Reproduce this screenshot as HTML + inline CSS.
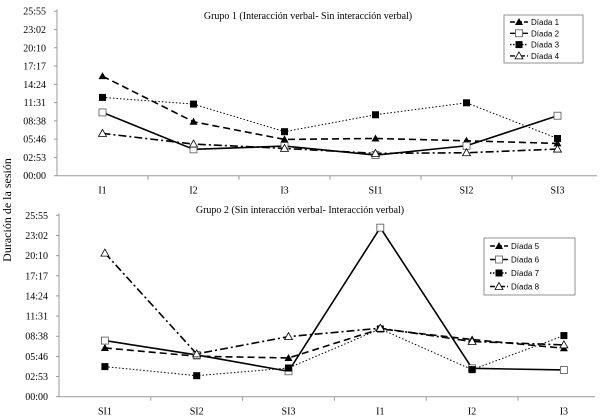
<!DOCTYPE html>
<html><head><meta charset="utf-8"><style>
body{margin:0;background:#fff}
svg{display:block;font-family:"Liberation Serif",serif}
</style></head><body>
<svg id="c" width="600" height="417" viewBox="0 0 600 417">
<text x="11" y="210" font-size="12" transform="rotate(-90 11 210)" text-anchor="middle">Duración de la sesión</text>
</svg>
<script>
const catsTop=["I1","I2","I3","SI1","SI2","SI3"];
const catsBot=["SI1","SI2","SI3","I1","I2","I3"];
const tickLabels=["00:00","02:53","05:46","08:38","11:31","14:24","17:17","20:10","23:02","25:55"];
const d1=[941,510,343,352,330,305];
const d2=[598,249,280,195,283,567];
const d3=[740,677,416,576,689,352];
const d4=[400,299,258,211,217,252];
const d5=[418,347,332,581,490,415];
const d6=[481,358,218,1449,243,229];
const d7=[258,180,246,581,232,524];
const d8=[1231,367,515,587,473,444];
const yMax=1555;
const svg=document.getElementById('c');
const NS="http://www.w3.org/2000/svg";
function mk(t,a,p){const e=document.createElementNS(NS,t);for(const k in a)e.setAttribute(k,a[k]);(p||svg).appendChild(e);return e;}
const styles={
 dash:"7,4", solid:"", dot:"1.5,2", dashdot:"8,3,2,3"
};
function marker(g,type,x,y){
 if(type==="tri"||type==="otri"){const m=mk('polygon',{points:`${x},${y-4} ${x-4},${y+3} ${x+4},${y+3}`,fill:type==="tri"?"#000":"#fff",stroke:"#000","stroke-width":type==="tri"?0:0.8},g);}
 else {const m=mk('rect',{x:x-3.5,y:y-3.5,width:7,height:7,fill:type==="sq"?"#000":"#fff",stroke:type==="sq"?"none":"#555","stroke-width":0.8},g);}
}
function panel(o){
 const g=mk('g',{});
 
 
 const ys=v=>o.y0-v/yMax*(o.y0-o.y1);
 const xs=i=>o.x0+o.bw*(i+0.5);
 const ax=mk('line',{x1:o.x0,y1:o.y1-2,x2:o.x0,y2:o.y0,stroke:"#999"},g);
 
 const bx=mk('line',{x1:o.x0,y1:o.y0,x2:o.x1,y2:o.y0,stroke:"#999"},g);
 
 tickLabels.forEach((t,i)=>{const v=i*yMax/9;const y=ys(v);
  mk('line',{x1:o.x0-3,y1:y,x2:o.x0,y2:y,stroke:"#999"},g);
  const tx=mk('text',{x:o.x0-11,y:y+3.5,"font-size":10,"text-anchor":"end"},g);tx.textContent=t;
  });
 o.cats.forEach((c,i)=>{
  if(i>0)mk('line',{x1:o.x0+o.bw*i,y1:o.y0,x2:o.x0+o.bw*i,y2:o.y0+4,stroke:"#999"},g);
  const tx=mk('text',{x:xs(i),y:o.y0+18,"font-size":10,"text-anchor":"middle"},g);tx.textContent=c;
  });
 const tt=mk('text',{x:o.tx,y:o.ty,"font-size":10,"text-anchor":"middle"},g);tt.textContent=o.title;
 
 o.series.forEach(s=>{
  const pts=s.data.map((v,i)=>xs(i)+","+ys(v)).join(" ");
  const pl=mk('polyline',{points:pts,fill:"none",stroke:"#000","stroke-width":s.st==="dot"?1:1.6,"stroke-dasharray":styles[s.st]},g);
  
  
  s.data.forEach((v,i)=>marker(g,s.mk,xs(i),ys(v)));
 });
 const lg=mk('g',{},g);
 
 mk('rect',{x:o.lx,y:o.ly,width:o.lw,height:o.lh,fill:"#fff",stroke:"#777","stroke-width":0.8},lg);
 o.series.forEach((s,i)=>{const y=o.ly+o.lpad+i*o.lstep;
  mk('line',{x1:o.lx+6,y1:y,x2:o.lx+24,y2:y,stroke:"#000","stroke-width":1.4,"stroke-dasharray":s.st==="dot"?"1.5,1.5":(s.st==="dash"?"5,2":s.st==="dashdot"?"5,2,1,2":"")},lg);
  marker(lg,s.mk,o.lx+15,y);
  const tx=mk('text',{x:o.lx+27,y:y+3,"font-size":8,"font-family":"Liberation Sans, sans-serif"},lg);tx.textContent=s.label;
  });
}
panel({name:"panel-grupo-1",x0:57,x1:597,bw:91,y0:175.7,y1:11.2,cats:catsTop,tx:308,ty:19,
 title:"Grupo 1 (Interacción verbal- Sin interacción verbal)",
 lx:504,ly:15,lw:79,lh:48,lpad:7,lstep:11.3,
 series:[{label:"Díada 1",data:d1,st:"dash",mk:"tri"},{label:"Díada 2",data:d2,st:"solid",mk:"osq"},
 {label:"Díada 3",data:d3,st:"dot",mk:"sq"},{label:"Díada 4",data:d4,st:"dashdot",mk:"otri"}]});
panel({name:"panel-grupo-2",x0:59,x1:595,bw:91.8,y0:396.7,y1:215.3,cats:catsBot,tx:300,ty:213,
 title:"Grupo 2 (Sin interacción verbal- Interacción verbal)",
 lx:484,ly:238,lw:91,lh:57,lpad:8,lstep:13.5,
 series:[{label:"Díada 5",data:d5,st:"dash",mk:"tri"},{label:"Díada 6",data:d6,st:"solid",mk:"osq"},
 {label:"Díada 7",data:d7,st:"dot",mk:"sq"},{label:"Díada 8",data:d8,st:"dashdot",mk:"otri"}]});
</script>
</body></html>
